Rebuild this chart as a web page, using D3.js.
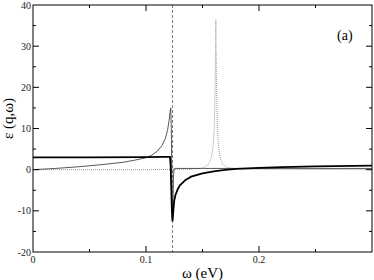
<!DOCTYPE html>
<html>
<head>
<meta charset="utf-8">
<script src="https://cdn.jsdelivr.net/npm/d3@7"></script>
<style>
  body { margin: 0; background: #fff; }
</style>
</head>
<body>
<script>
// thick solid curve
var thickW = [0, 0.05, 0.1, 0.115, 0.1212, 0.1218, 0.1224, 0.1229, 0.1234, 0.1238, 0.1243, 0.125, 0.126, 0.128, 0.13, 0.135, 0.14, 0.15, 0.16, 0.17, 0.18, 0.2, 0.22, 0.25, 0.3];
var thickE = [3.0, 3.0, 3.05, 3.1, 3.1, 1.0, -5, -10, -12.5, -11.5, -9.5, -7.5, -6.2, -4.8, -3.8, -2.5, -1.7, -0.9, -0.4, -0.05, 0.2, 0.45, 0.6, 0.8, 1.0];

// thin solid curve
var thinW = [0, 0.02, 0.04, 0.06, 0.08, 0.09, 0.1, 0.105, 0.11, 0.114, 0.117, 0.119, 0.1205, 0.1214, 0.1219, 0.1224, 0.1228, 0.1232, 0.1235, 0.1239, 0.1243, 0.1248, 0.126, 0.15, 0.2, 0.3];
var thinE = [0, 0.3, 0.7, 1.2, 1.8, 2.3, 2.9, 3.5, 4.5, 5.8, 7.5, 9.5, 12, 14.2, 15, 10, 0, -8, -12, -8, -2, 0.2, 0.3, 0.3, 0.3, 0.3];

// dotted curve
var dotW = [0, 0.1, 0.14, 0.15, 0.155, 0.158, 0.1595, 0.1605, 0.1612, 0.1618, 0.1624, 0.1631, 0.1641, 0.1655, 0.168, 0.172, 0.18, 0.2, 0.3];
var dotE = [0, 0, 0.1, 0.4, 1.2, 3, 6, 11, 20, 36.5, 20, 11, 6, 3, 1.2, 0.5, 0.2, 0.1, 0];

var xTicks = [0, 0.1, 0.2];
var yTicks = [-20, -10, 0, 10, 20, 30, 40];
var omegaT = 0.1235;

var FONT = "'Liberation Serif'";
var GREEK = "'Liberation Serif', 'Noto Serif', serif";

var W = 374, H = 280;
var margin = {top: 5, right: 2, bottom: 28, left: 33};
var width = W - margin.left - margin.right,
    height = H - margin.top - margin.bottom;

var svg = d3.select("body").append("svg")
    .attr("width", W).attr("height", H)
  .append("g")
    .attr("transform", "translate(" + margin.left + "," + margin.top + ")");

var x = d3.scaleLinear().domain([0, 0.3]).range([0, width]);
var y = d3.scaleLinear().domain([-20, 40]).range([height, 0]);

svg.append("clipPath").attr("id", "clip")
  .append("rect").attr("width", width).attr("height", height);

var plot = svg.append("g").attr("clip-path", "url(#clip)");

var line = d3.line()
    .x(function(d) { return x(d[0]); })
    .y(function(d) { return y(d[1]); });

function pairs(a, b) { return a.map(function(v, i) { return [v, b[i]]; }); }

// vertical dashed line
plot.append("line")
    .attr("x1", x(omegaT)).attr("x2", x(omegaT))
    .attr("y1", 0).attr("y2", height)
    .attr("stroke", "#777").attr("stroke-width", 1)
    .attr("stroke-dasharray", "3,2");

plot.append("path").datum(pairs(dotW, dotE))
    .attr("d", line).attr("fill", "none")
    .attr("stroke", "#999").attr("stroke-width", 1)
    .attr("stroke-dasharray", "1,1");

plot.append("path").datum(pairs(thinW, thinE))
    .attr("d", line).attr("fill", "none")
    .attr("stroke", "#444").attr("stroke-width", 0.9);

plot.append("path").datum(pairs(thickW, thickE))
    .attr("d", line).attr("fill", "none")
    .attr("stroke", "#000").attr("stroke-width", 1.8);

// frame
svg.append("rect").attr("width", width).attr("height", height)
    .attr("fill", "none").attr("stroke", "#000").attr("stroke-width", 1);

// ticks, inward on all sides
var xMajor = [0.1, 0.2], xMinor = [0.05, 0.15, 0.25];
var yMajor = [-10, 0, 10, 20, 30], yMinor = [-15, -5, 5, 15, 25, 35];
function tickSet(vals, len, vertical) {
  vals.forEach(function(v) {
    if (vertical) {
      svg.append("line").attr("x1", x(v)).attr("x2", x(v)).attr("y1", height).attr("y2", height - len).attr("stroke", "#000");
      svg.append("line").attr("x1", x(v)).attr("x2", x(v)).attr("y1", 0).attr("y2", len).attr("stroke", "#000");
    } else {
      svg.append("line").attr("y1", y(v)).attr("y2", y(v)).attr("x1", 0).attr("x2", len).attr("stroke", "#000");
      svg.append("line").attr("y1", y(v)).attr("y2", y(v)).attr("x1", width).attr("x2", width - len).attr("stroke", "#000");
    }
  });
}
tickSet(xMajor, 6, true);
tickSet(xMinor, 3, true);
tickSet(yMajor, 6, false);
tickSet(yMinor, 3, false);

// tick labels
svg.selectAll(".xl").data(xTicks).enter().append("text")
    .attr("x", function(d) { return x(d); }).attr("y", height + 11)
    .attr("text-anchor", "middle").attr("font-size", 10).attr("fill", "#222")
    .style("font-family", FONT)
    .text(function(d) { return d; });
svg.selectAll(".yl").data(yTicks).enter().append("text")
    .attr("x", -2).attr("y", function(d) { return y(d) + 3.5; })
    .attr("text-anchor", "end").attr("font-size", 10).attr("fill", "#222")
    .style("font-family", FONT)
    .text(function(d) { return d; });

// titles: greek letters get a different family list so they form their own run
function label(t, parts) {
  parts.forEach(function(p) {
    t.append("tspan")
        .style("font-family", /[α-ω]/.test(p) ? GREEK : FONT)
        .text(p);
  });
}
var xt = svg.append("text").attr("x", x(0.15)).attr("y", height + 26)
    .attr("text-anchor", "middle").attr("font-size", 15);
label(xt, ["ω", " (eV)"]);
var yt = svg.append("text")
    .attr("transform", "translate(" + (-20) + "," + (y(10) - 10) + ") rotate(-90)")
    .attr("text-anchor", "middle").attr("font-size", 15);
label(yt, ["ε", " (q,", "ω", ")"]);
svg.append("text").attr("x", x(0.276)).attr("y", y(31.5))
    .attr("text-anchor", "middle").attr("font-size", 14)
    .style("font-family", FONT)
    .text("(a)");
</script>
</body>
</html>
